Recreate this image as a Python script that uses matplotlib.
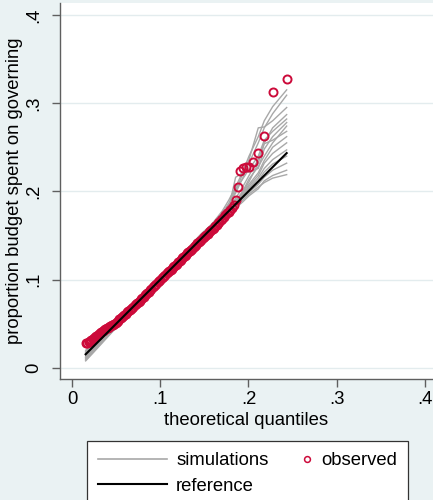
import matplotlib
matplotlib.use("Agg")
import matplotlib.pyplot as plt
from matplotlib.lines import Line2D
from matplotlib.legend_handler import HandlerBase

plt.rcParams['font.family'] = ['Liberation Sans', 'DejaVu Sans']

# Theoretical quantiles (x) and sorted observed shares (y)
theoretical = [
    0.0155, 0.0172, 0.0188, 0.0203, 0.0219, 0.0234, 0.0248, 0.0262, 0.0277, 0.0291,
    0.0305, 0.0320, 0.0334, 0.0349, 0.0363, 0.0378, 0.0392, 0.0407, 0.0421, 0.0436,
    0.0450, 0.0465, 0.0479, 0.0494, 0.0508, 0.0523, 0.0537, 0.0552, 0.0566, 0.0581,
    0.0595, 0.0610, 0.0624, 0.0639, 0.0653, 0.0668, 0.0682, 0.0697, 0.0711, 0.0726,
    0.0740, 0.0755, 0.0769, 0.0784, 0.0798, 0.0813, 0.0827, 0.0842, 0.0856, 0.0871,
    0.0885, 0.0900, 0.0914, 0.0929, 0.0943, 0.0958, 0.0972, 0.0987, 0.1001, 0.1016,
    0.1030, 0.1045, 0.1059, 0.1074, 0.1088, 0.1103, 0.1117, 0.1132, 0.1146, 0.1161,
    0.1175, 0.1190, 0.1204, 0.1219, 0.1233, 0.1248, 0.1262, 0.1277, 0.1291, 0.1306,
    0.1320, 0.1335, 0.1349, 0.1364, 0.1378, 0.1393, 0.1407, 0.1422, 0.1436, 0.1451,
    0.1465, 0.1480, 0.1494, 0.1509, 0.1523, 0.1538, 0.1552, 0.1567, 0.1581, 0.1596,
    0.1610, 0.1625, 0.1640, 0.1656, 0.1672, 0.1688, 0.1705, 0.1722, 0.1740, 0.1758,
    0.1777, 0.1796, 0.1816, 0.1835, 0.1855, 0.1878, 0.1905, 0.1935, 0.1969, 0.2007,
    0.2056, 0.2112, 0.2180, 0.2275, 0.2434,
]

observed = [
    0.0283, 0.0287, 0.0293, 0.0302, 0.0316, 0.0330, 0.0342, 0.0354, 0.0366, 0.0376,
    0.0385, 0.0394, 0.0403, 0.0414, 0.0425, 0.0437, 0.0449, 0.0458, 0.0466, 0.0474,
    0.0482, 0.0492, 0.0503, 0.0514, 0.0525, 0.0537, 0.0550, 0.0563, 0.0577, 0.0590,
    0.0603, 0.0616, 0.0629, 0.0643, 0.0656, 0.0668, 0.0680, 0.0694, 0.0709, 0.0723,
    0.0737, 0.0751, 0.0764, 0.0778, 0.0793, 0.0809, 0.0824, 0.0838, 0.0852, 0.0866,
    0.0881, 0.0897, 0.0912, 0.0927, 0.0941, 0.0955, 0.0969, 0.0985, 0.1000, 0.1014,
    0.1027, 0.1041, 0.1056, 0.1071, 0.1085, 0.1098, 0.1111, 0.1126, 0.1141, 0.1156,
    0.1170, 0.1183, 0.1197, 0.1212, 0.1227, 0.1242, 0.1255, 0.1268, 0.1282, 0.1297,
    0.1312, 0.1326, 0.1339, 0.1353, 0.1368, 0.1383, 0.1397, 0.1410, 0.1423, 0.1437,
    0.1452, 0.1467, 0.1481, 0.1494, 0.1507, 0.1521, 0.1536, 0.1551, 0.1565, 0.1578,
    0.1591, 0.1605, 0.1621, 0.1638, 0.1656, 0.1674, 0.1692, 0.1712, 0.1732, 0.1752,
    0.1771, 0.1790, 0.1812, 0.1845, 0.1900, 0.2053, 0.2231, 0.2262, 0.2280, 0.2282,
    0.2330, 0.2431, 0.2627, 0.3130, 0.3270,
]

# Positions (into theoretical) at which each simulated sample is traced
sim_idx = [0, 6, 20, 45, 70, 90, 100, 106, 110, 114, 117, 119, 121, 122, 123, 124]

sim01 = [0.012, 0.022, 0.043, 0.081, 0.119, 0.150, 0.166, 0.178, 0.190, 0.205, 0.222, 0.240, 0.262, 0.280, 0.296, 0.315]
sim02 = [0.018, 0.027, 0.046, 0.083, 0.121, 0.152, 0.165, 0.176, 0.186, 0.198, 0.215, 0.232, 0.255, 0.272, 0.288, 0.309]
sim03 = [0.010, 0.020, 0.042, 0.079, 0.116, 0.147, 0.162, 0.173, 0.184, 0.200, 0.220, 0.236, 0.272, 0.273, 0.280, 0.295]
sim04 = [0.015, 0.025, 0.045, 0.082, 0.118, 0.146, 0.160, 0.170, 0.180, 0.192, 0.205, 0.218, 0.236, 0.255, 0.272, 0.287]
sim05 = [0.020, 0.029, 0.047, 0.084, 0.120, 0.149, 0.163, 0.174, 0.186, 0.203, 0.214, 0.225, 0.240, 0.258, 0.268, 0.282]
sim06 = [0.013, 0.023, 0.044, 0.080, 0.117, 0.145, 0.159, 0.171, 0.181, 0.216, 0.221, 0.222, 0.226, 0.248, 0.262, 0.278]
sim07 = [0.009, 0.019, 0.041, 0.078, 0.115, 0.144, 0.158, 0.168, 0.177, 0.188, 0.200, 0.214, 0.228, 0.240, 0.255, 0.274]
sim08 = [0.017, 0.026, 0.046, 0.082, 0.119, 0.148, 0.161, 0.172, 0.182, 0.190, 0.199, 0.211, 0.232, 0.254, 0.258, 0.268]
sim09 = [0.014, 0.024, 0.044, 0.081, 0.117, 0.146, 0.160, 0.170, 0.179, 0.189, 0.198, 0.208, 0.221, 0.235, 0.250, 0.262]
sim10 = [0.011, 0.021, 0.043, 0.080, 0.116, 0.144, 0.157, 0.167, 0.176, 0.185, 0.196, 0.206, 0.218, 0.232, 0.243, 0.255]
sim11 = [0.016, 0.025, 0.045, 0.081, 0.118, 0.147, 0.161, 0.171, 0.180, 0.188, 0.196, 0.204, 0.215, 0.226, 0.236, 0.247]
sim12 = [0.019, 0.028, 0.047, 0.083, 0.120, 0.149, 0.163, 0.173, 0.181, 0.187, 0.195, 0.203, 0.212, 0.222, 0.231, 0.240]
sim13 = [0.012, 0.022, 0.043, 0.079, 0.116, 0.145, 0.158, 0.168, 0.176, 0.184, 0.192, 0.199, 0.208, 0.216, 0.224, 0.232]
sim14 = [0.008, 0.018, 0.040, 0.078, 0.115, 0.143, 0.156, 0.166, 0.174, 0.181, 0.188, 0.195, 0.203, 0.212, 0.218, 0.224]
sim15 = [0.015, 0.024, 0.044, 0.080, 0.117, 0.146, 0.159, 0.169, 0.177, 0.183, 0.190, 0.197, 0.205, 0.210, 0.215, 0.219]
simulations = [sim01, sim02, sim03, sim04, sim05, sim06, sim07, sim08,
               sim09, sim10, sim11, sim12, sim13, sim14, sim15]

tick_values = [0, 0.1, 0.2, 0.3, 0.4]
tick_labels = ['0', '.1', '.2', '.3', '.4']

BG = '#EAF2F3'
AXIS = '#5f5f5f'
GREY = '#A8A8A8'
RED = '#CC0A3A'
FS = 13.3

W, H = 433, 500
fig = plt.figure(figsize=(W / 100, H / 100), dpi=100, facecolor=BG)
ax = fig.add_axes([60 / W, 121 / H, 373 / W, 376 / H])
ax.set_facecolor('white')

sim_x = [theoretical[i] for i in sim_idx]
for s in simulations:
    ax.plot(sim_x, s, color=GREY, lw=1.0, zorder=2)

ax.plot(theoretical, observed, linestyle='none', marker='o', markersize=5.8,
        markerfacecolor='none', markeredgecolor=RED, markeredgewidth=1.4, zorder=3)

ref = [theoretical[0], theoretical[-1]]
ax.plot(ref, ref, color='black', lw=1.5, zorder=4)

ax.set_xlim(-0.0136, 0.4093)
ax.set_ylim(-0.0125, 0.4134)
ax.set_xticks(tick_values)
ax.set_xticklabels(tick_labels)
ax.set_yticks(tick_values)
ax.set_yticklabels(tick_labels, rotation=90, va='center')

ax.yaxis.grid(True, color='#E3ECEE', lw=1.0, zorder=0)
ax.set_axisbelow(True)
for side in ('top', 'right'):
    ax.spines[side].set_visible(False)
for side in ('left', 'bottom'):
    ax.spines[side].set_color(AXIS)
    ax.spines[side].set_linewidth(1.0)
ax.tick_params(axis='both', direction='out', length=5.5, width=1.0, color=AXIS,
               labelsize=FS, labelcolor='black')
ax.tick_params(axis='y', pad=7)
ax.tick_params(axis='x', pad=3)

ax.set_xlabel('theoretical quantiles', fontsize=FS, labelpad=3)
ax.set_ylabel('proportion budget spent on governing', fontsize=FS, labelpad=2)


class EndMarkerHandler(HandlerBase):
    """Legend key that draws a single marker near the right end of the key box."""
    def create_artists(self, legend, orig_handle, xdescent, ydescent,
                       width, height, fontsize, trans):
        m = Line2D([-xdescent + width - 0.25 * fontsize], [(height - ydescent) / 2],
                   linestyle='none', marker='o', markersize=4.2,
                   markerfacecolor='none', markeredgecolor=RED, markeredgewidth=1.1)
        m.set_transform(trans)
        return [m]


h_sim = Line2D([], [], color=GREY, lw=1.2)
h_ref = Line2D([], [], color='black', lw=1.5)
h_obs = Line2D([], [], linestyle='none', marker='o', markeredgecolor=RED,
               markerfacecolor='none')
leg = fig.legend(handles=[h_sim, h_ref, h_obs],
                 labels=['simulations', 'reference', 'observed'],
                 ncol=2, loc='upper left',
                 bbox_to_anchor=(87 / W, 1 - 441 / H), bbox_transform=fig.transFigure,
                 borderaxespad=0, frameon=True, fancybox=False,
                 edgecolor='#333333', facecolor='white', framealpha=1,
                 fontsize=FS, handlelength=3.7, handletextpad=0.5,
                 columnspacing=-1.35, borderpad=0.62, labelspacing=0.45,
                 handler_map={h_obs: EndMarkerHandler()})
leg.get_frame().set_linewidth(0.9)

fig.savefig('out.png', dpi=100, facecolor=BG)
